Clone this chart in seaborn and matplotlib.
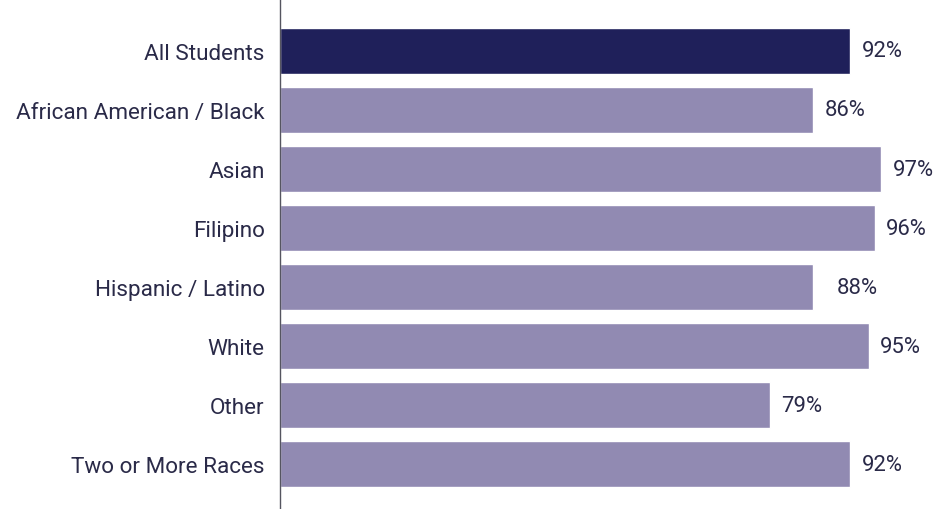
import matplotlib
matplotlib.use("Agg")
import matplotlib.pyplot as plt
import seaborn as sns
import pandas as pd

categories = ["All Students", "African American / Black", "Asian", "Filipino",
              "Hispanic / Latino", "White", "Other", "Two or More Races"]
bar_values = [92, 86, 97, 96, 86, 95, 79, 92]
label_values = [92, 86, 97, 96, 88, 95, 79, 92]
labels = ["92%", "86%", "97%", "96%", "88%", "95%", "79%", "92%"]

navy = "#1f205a"
lav = "#918ab2"
text_c = "#2a2a48"
palette = [navy] + [lav] * (len(categories) - 1)

sns.set_theme(style="white")
plt.rcParams["font.family"] = ["Roboto", "DejaVu Sans"]

df = pd.DataFrame({"cat": categories, "val": bar_values})

fig = plt.figure(figsize=(9.41, 5.10), dpi=100)
ax = fig.add_axes([280 / 941, 0.0, 657 / 941, 1.0])
sns.barplot(data=df, x="val", y="cat", hue="cat", palette=palette, legend=False,
            width=0.77, saturation=1, ax=ax, orient="h")

ax.set_xlim(0, 657 / 6.2)
ax.set_ylim(7.76, -0.88)
ax.set_xlabel("")
ax.set_ylabel("")
ax.set_xticks([])
for s in ["top", "right", "bottom"]:
    ax.spines[s].set_visible(False)
ax.spines["left"].set_color("#555560")
ax.spines["left"].set_linewidth(1.0)
ax.tick_params(axis="y", length=0, pad=11, labelsize=16.2, labelcolor=text_c)

for i, (v, t) in enumerate(zip(label_values, labels)):
    ax.text(v + 1.8, i, t, va="center", ha="left", fontsize=15.8, color=text_c)

fig.savefig("out.png", dpi=100)
